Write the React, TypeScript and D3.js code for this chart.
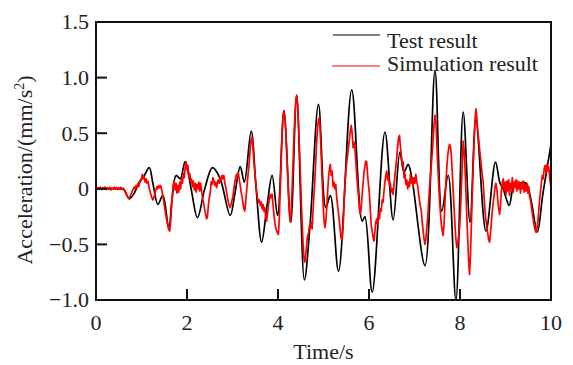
import React from "react";
import * as d3 from "d3";

const xTicks = [0, 2, 4, 6, 8, 10];
const yTicks = [-1.0, -0.5, 0, 0.5, 1.0, 1.5];
const yTickLabels = ["\u22121.0", "\u22120.5", "0", "0.5", "1.0", "1.5"];
const seriesNames = ["Test result", "Simulation result"];

const testTime = [0, 0.3, 0.55, 0.62, 0.73, 0.84, 0.95, 1.05, 1.17, 1.25, 1.36, 1.47, 1.6, 1.67, 1.76, 1.85, 1.96, 2.09, 2.23, 2.39, 2.56, 2.72, 2.95, 3.05, 3.17, 3.26, 3.41, 3.52, 3.64, 3.76, 3.87, 3.99, 4.13, 4.28, 4.41, 4.58, 4.7, 4.89, 5.05, 5.15, 5.33, 5.62, 5.85, 5.91, 6.07, 6.35, 6.53, 6.68, 6.77, 6.86, 6.94, 7.23, 7.45, 7.6, 7.74, 7.91, 8.07, 8.22, 8.35, 8.57, 8.78, 8.88, 8.95, 9.01, 9.08, 9.19, 9.25, 9.32, 9.45, 9.56, 9.7, 9.82, 10];
const testValue = [0, 0, 0, -0.01, -0.09, -0.04, 0.06, 0.11, 0.19, 0.05, -0.14, -0.06, -0.36, -0.1, 0.12, 0.09, 0.245, 0.0, -0.26, 0.0, 0.19, 0.1, -0.24, -0.05, 0.2, 0.06, 0.52, 0.0, -0.48, -0.15, 0.12, -0.24, 0.7, -0.3, 0.84, -0.82, -0.35, 0.76, -0.17, -0.06, -0.74, 0.89, -0.29, -0.25, -0.93, 0.51, -0.28, 0.33, 0.15, 0.22, 0.1, -0.69, 1.06, -0.2, 0.12, -1.0, 0.69, -0.3, 0.62, -0.38, 0.24, 0.05, 0.0, -0.08, -0.15, 0.04, 0.02, 0.05, 0.05, -0.1, -0.39, -0.05, 0.4];

const simTime = [0.00, 0.03, 0.05, 0.08, 0.10, 0.13, 0.15, 0.18, 0.20, 0.23, 0.25, 0.28, 0.30, 0.33, 0.35, 0.38, 0.40, 0.43, 0.45, 0.48, 0.50, 0.53, 0.55, 0.58, 0.60, 0.63, 0.66, 0.69, 0.72, 0.75, 0.78, 0.81, 0.84, 0.86, 0.88, 0.90, 0.92, 0.94, 0.96, 0.98, 1.00, 1.02, 1.04, 1.06, 1.08, 1.10, 1.12, 1.14, 1.16, 1.19, 1.22, 1.25, 1.28, 1.31, 1.34, 1.36, 1.38, 1.40, 1.42, 1.45, 1.48, 1.51, 1.54, 1.57, 1.60, 1.62, 1.64, 1.66, 1.68, 1.70, 1.72, 1.74, 1.76, 1.78, 1.80, 1.82, 1.84, 1.86, 1.88, 1.90, 1.92, 1.94, 1.96, 1.98, 2.00, 2.02, 2.04, 2.06, 2.08, 2.10, 2.12, 2.14, 2.16, 2.18, 2.20, 2.22, 2.24, 2.26, 2.28, 2.30, 2.32, 2.34, 2.37, 2.40, 2.43, 2.45, 2.47, 2.49, 2.51, 2.53, 2.55, 2.57, 2.59, 2.61, 2.63, 2.65, 2.67, 2.69, 2.71, 2.73, 2.75, 2.77, 2.79, 2.81, 2.83, 2.85, 2.87, 2.89, 2.91, 2.93, 2.95, 2.97, 2.99, 3.01, 3.03, 3.05, 3.07, 3.09, 3.11, 3.13, 3.15, 3.17, 3.19, 3.21, 3.23, 3.25, 3.27, 3.29, 3.31, 3.33, 3.35, 3.37, 3.39, 3.41, 3.43, 3.45, 3.47, 3.49, 3.51, 3.53, 3.55, 3.57, 3.59, 3.61, 3.63, 3.65, 3.67, 3.69, 3.71, 3.73, 3.75, 3.77, 3.79, 3.81, 3.83, 3.85, 3.87, 3.89, 3.91, 3.93, 3.95, 3.97, 3.99, 4.01, 4.03, 4.05, 4.07, 4.09, 4.11, 4.13, 4.15, 4.17, 4.19, 4.21, 4.23, 4.25, 4.27, 4.29, 4.31, 4.33, 4.35, 4.37, 4.39, 4.41, 4.43, 4.45, 4.47, 4.49, 4.51, 4.53, 4.55, 4.57, 4.59, 4.61, 4.63, 4.65, 4.67, 4.69, 4.71, 4.73, 4.75, 4.77, 4.79, 4.81, 4.83, 4.85, 4.87, 4.89, 4.91, 4.93, 4.95, 4.97, 4.99, 5.01, 5.03, 5.05, 5.07, 5.09, 5.11, 5.13, 5.15, 5.17, 5.19, 5.21, 5.23, 5.25, 5.27, 5.29, 5.31, 5.33, 5.35, 5.37, 5.39, 5.41, 5.43, 5.45, 5.47, 5.49, 5.51, 5.53, 5.55, 5.57, 5.59, 5.61, 5.63, 5.65, 5.67, 5.69, 5.71, 5.73, 5.75, 5.77, 5.79, 5.81, 5.83, 5.85, 5.87, 5.89, 5.91, 5.93, 5.95, 5.97, 5.99, 6.01, 6.03, 6.05, 6.07, 6.09, 6.11, 6.13, 6.15, 6.17, 6.19, 6.21, 6.23, 6.25, 6.27, 6.29, 6.31, 6.33, 6.35, 6.37, 6.39, 6.41, 6.43, 6.45, 6.47, 6.49, 6.51, 6.53, 6.55, 6.57, 6.59, 6.61, 6.63, 6.65, 6.67, 6.69, 6.71, 6.73, 6.75, 6.77, 6.79, 6.81, 6.83, 6.85, 6.87, 6.89, 6.91, 6.93, 6.95, 6.97, 6.99, 7.01, 7.03, 7.05, 7.07, 7.09, 7.11, 7.13, 7.15, 7.17, 7.19, 7.21, 7.23, 7.25, 7.27, 7.29, 7.31, 7.33, 7.35, 7.37, 7.39, 7.41, 7.43, 7.45, 7.47, 7.49, 7.51, 7.53, 7.55, 7.57, 7.59, 7.61, 7.63, 7.65, 7.67, 7.69, 7.71, 7.73, 7.75, 7.77, 7.79, 7.81, 7.83, 7.85, 7.87, 7.89, 7.91, 7.93, 7.95, 7.97, 7.99, 8.01, 8.03, 8.05, 8.07, 8.09, 8.11, 8.13, 8.15, 8.17, 8.19, 8.21, 8.23, 8.25, 8.27, 8.29, 8.31, 8.33, 8.35, 8.37, 8.39, 8.41, 8.43, 8.45, 8.47, 8.49, 8.51, 8.53, 8.55, 8.57, 8.59, 8.61, 8.63, 8.65, 8.67, 8.69, 8.71, 8.73, 8.75, 8.77, 8.79, 8.81, 8.83, 8.85, 8.87, 8.89, 8.91, 8.93, 8.95, 8.97, 8.99, 9.01, 9.03, 9.05, 9.07, 9.09, 9.11, 9.13, 9.15, 9.17, 9.19, 9.21, 9.23, 9.25, 9.27, 9.29, 9.31, 9.33, 9.35, 9.37, 9.39, 9.41, 9.43, 9.45, 9.47, 9.49, 9.51, 9.53, 9.55, 9.57, 9.59, 9.61, 9.63, 9.65, 9.67, 9.69, 9.71, 9.73, 9.75, 9.77, 9.79, 9.81, 9.83, 9.85, 9.87, 9.89, 9.91, 9.93, 9.95, 9.97, 9.99, 10.0];
const simValue = [0.005, -0.005, 0.012, 0.0, 0.015, -0.008, 0.01, 0.002, 0.016, -0.006, 0.01, -0.002, 0.014, -0.01, 0.008, 0.0, 0.015, -0.004, 0.012, -0.006, 0.01, 0.0, 0.014, -0.004, 0.006, -0.02, -0.045, -0.07, -0.085, -0.07, -0.04, -0.01, 0.015, -0.005, 0.03, 0.01, 0.045, 0.02, 0.055, 0.07, 0.1, 0.13, 0.09, 0.11, 0.06, 0.09, 0.05, 0.07, 0.03, -0.03, -0.07, -0.1, -0.07, -0.02, 0.02, 0.0, 0.03, 0.01, 0.03, -0.02, -0.09, -0.17, -0.25, -0.31, -0.37, -0.38, -0.3, -0.17, -0.05, 0.04, 0.07, -0.01, 0.05, -0.04, 0.03, -0.03, 0.06, 0.0, 0.09, 0.05, 0.14, 0.1, 0.19, 0.24, 0.17, 0.21, 0.11, 0.14, 0.06, 0.09, 0.02, 0.07, -0.01, 0.05, -0.03, 0.04, 0.0, 0.06, -0.02, 0.05, -0.02, -0.08, -0.14, -0.21, -0.27, -0.25, -0.15, -0.08, -0.04, 0.06, 0.04, 0.1, 0.07, 0.03, 0.06, 0.01, 0.06, 0.08, 0.05, 0.1, 0.08, 0.12, 0.09, 0.12, 0.05, 0.02, -0.03, -0.08, -0.12, -0.15, -0.17, -0.14, -0.1, -0.07, 0.0, 0.06, 0.1, 0.13, 0.11, 0.14, 0.08, 0.03, -0.03, -0.07, -0.13, -0.18, -0.2, -0.12, -0.02, 0.08, 0.16, 0.25, 0.36, 0.44, 0.46, 0.38, 0.25, 0.15, 0.06, -0.02, -0.08, -0.12, -0.1, -0.15, -0.12, -0.18, -0.14, -0.2, -0.17, -0.25, -0.29, -0.22, -0.15, -0.1, -0.05, -0.08, -0.05, -0.14, -0.23, -0.3, -0.35, -0.38, -0.4, -0.41, -0.25, 0.0, 0.25, 0.48, 0.65, 0.7, 0.64, 0.52, 0.35, 0.15, -0.05, -0.22, -0.3, -0.2, 0.0, 0.22, 0.45, 0.64, 0.78, 0.84, 0.76, 0.58, 0.38, 0.15, -0.08, -0.3, -0.48, -0.62, -0.66, -0.6, -0.5, -0.42, -0.4, -0.33, -0.35, -0.3, -0.36, -0.2, -0.05, 0.08, 0.25, 0.42, 0.55, 0.62, 0.64, 0.5, 0.3, 0.08, -0.12, -0.28, -0.35, -0.3, -0.18, -0.04, 0.1, 0.18, 0.22, 0.12, 0.16, 0.02, 0.06, 0.0, 0.04, -0.08, -0.15, -0.22, -0.3, -0.38, -0.45, -0.46, -0.35, -0.15, 0.03, 0.15, 0.24, 0.3, 0.38, 0.45, 0.52, 0.57, 0.5, 0.37, 0.42, 0.36, 0.25, 0.12, 0.02, -0.06, -0.18, -0.23, -0.17, -0.05, 0.05, 0.15, 0.2, 0.25, 0.24, 0.12, 0.03, -0.05, -0.2, -0.33, -0.38, -0.44, -0.47, -0.38, -0.3, -0.27, -0.32, -0.22, -0.27, -0.18, -0.2, -0.1, -0.12, -0.02, 0.06, 0.12, 0.16, 0.08, 0.12, 0.03, 0.05, -0.03, 0.0, -0.05, 0.04, 0.12, 0.2, 0.28, 0.38, 0.46, 0.48, 0.38, 0.3, 0.22, 0.24, 0.1, 0.14, 0.04, 0.08, 0.0, 0.06, 0.02, 0.13, 0.05, 0.09, 0.02, 0.1, 0.05, 0.13, 0.06, 0.03, -0.05, -0.1, -0.16, -0.2, -0.3, -0.38, -0.45, -0.5, -0.45, -0.35, -0.26, -0.12, 0.0, 0.12, 0.22, 0.32, 0.45, 0.58, 0.66, 0.6, 0.42, 0.22, 0.05, -0.1, -0.22, -0.32, -0.38, -0.42, -0.32, -0.12, 0.06, 0.19, 0.3, 0.36, 0.4, 0.38, 0.3, 0.15, -0.02, -0.17, -0.33, -0.45, -0.53, -0.5, -0.42, -0.36, -0.2, 0.0, 0.22, 0.43, 0.35, 0.19, -0.02, -0.25, -0.45, -0.65, -0.77, -0.6, -0.32, -0.05, 0.2, 0.42, 0.62, 0.72, 0.64, 0.52, 0.44, 0.36, 0.28, 0.2, 0.12, 0.06, -0.08, -0.2, -0.28, -0.35, -0.4, -0.46, -0.48, -0.4, -0.3, -0.2, -0.12, -0.06, 0.02, 0.05, 0.0, -0.1, -0.18, -0.23, -0.15, -0.02, 0.06, 0.09, -0.02, 0.06, -0.05, 0.07, -0.02, 0.08, -0.06, 0.05, 0.0, 0.1, -0.03, 0.06, 0.01, 0.08, -0.02, 0.07, 0.0, 0.06, -0.04, 0.05, 0.0, 0.07, -0.03, 0.04, -0.02, 0.05, -0.04, 0.02, -0.07, -0.1, -0.16, -0.22, -0.28, -0.33, -0.37, -0.39, -0.37, -0.3, -0.2, -0.1, -0.02, 0.06, 0.12, 0.09, 0.18, 0.21, 0.14, 0.22, 0.16, 0.2, 0.1, 0.04, 0.02];

const W = 573;
const H = 365;
const M = { left: 96, right: 551, top: 22, bottom: 300 };
const FONT = "'Liberation Serif', 'Times New Roman', serif";

export default function App() {
  const x = d3.scaleLinear().domain([0, 10]).range([M.left, M.right]);
  const y = d3.scaleLinear().domain([-1, 1.5]).range([M.bottom, M.top]);

  const testData = testTime.map((t, i) => [t, testValue[i]] as [number, number]);
  const simData = simTime.map((t, i) => [t, simValue[i]] as [number, number]);

  const smoothLine = d3
    .line<[number, number]>()
    .x((d) => x(d[0]))
    .y((d) => y(d[1]))
    .curve(d3.curveCatmullRom.alpha(0.5));
  const rawLine = d3
    .line<[number, number]>()
    .x((d) => x(d[0]))
    .y((d) => y(d[1]));

  return (
    <svg
      width={W}
      height={H}
      style={{ position: "absolute", left: 0, top: 0, background: "#fff" }}
      fontFamily={FONT}
    >
      <defs>
        <clipPath id="plotClip">
          <rect x={M.left} y={M.top} width={M.right - M.left} height={M.bottom - M.top} />
        </clipPath>
      </defs>
      <g clipPath="url(#plotClip)">
        <path d={smoothLine(testData) || ""} fill="none" stroke="#000" strokeWidth={1.7} />
        <path d={rawLine(simData) || ""} fill="none" stroke="#ff0000" strokeWidth={1.7} strokeLinejoin="round" />
      </g>
      <rect
        x={M.left}
        y={M.top}
        width={M.right - M.left}
        height={M.bottom - M.top}
        fill="none"
        stroke="#111"
        strokeWidth={2}
      />
      {yTicks.map((v, i) => (
        <g key={"y" + i}>
          <line x1={M.left} x2={M.left + 11} y1={y(v)} y2={y(v)} stroke="#111" strokeWidth={2} />
          <text x={M.left - 7} y={y(v)} dy="0.34em" textAnchor="end" fontSize={22} fill="#222">
            {yTickLabels[i]}
          </text>
        </g>
      ))}
      {xTicks.map((v, i) => (
        <g key={"x" + i}>
          {v > 0 && v < 10 && (
            <line x1={x(v)} x2={x(v)} y1={M.bottom} y2={M.bottom - 11} stroke="#111" strokeWidth={2} />
          )}
          <text x={x(v)} y={330} textAnchor="middle" fontSize={22} fill="#222">
            {String(v)}
          </text>
        </g>
      ))}
      <text x={(M.left + M.right) / 2} y={359} textAnchor="middle" fontSize={22} fill="#222">
        Time/s
      </text>
      <text
        transform={`translate(32, ${(M.top + M.bottom) / 2 + 9}) rotate(-90)`}
        textAnchor="middle"
        fontSize={22}
        fill="#222"
      >
        Acceleration/(mm/s
        <tspan fontSize={14} dy={-8}>2</tspan>
        <tspan dy={8}>)</tspan>
      </text>
      <line x1={333} x2={380} y1={35} y2={35} stroke="#000" strokeWidth={1.2} />
      <text x={387} y={48} fontSize={22} fill="#222">
        {seriesNames[0]}
      </text>
      <line x1={332} x2={380} y1={66} y2={66} stroke="#ff0000" strokeWidth={1.2} />
      <text x={387} y={71} fontSize={22} fill="#222">
        {seriesNames[1]}
      </text>
    </svg>
  );
}
